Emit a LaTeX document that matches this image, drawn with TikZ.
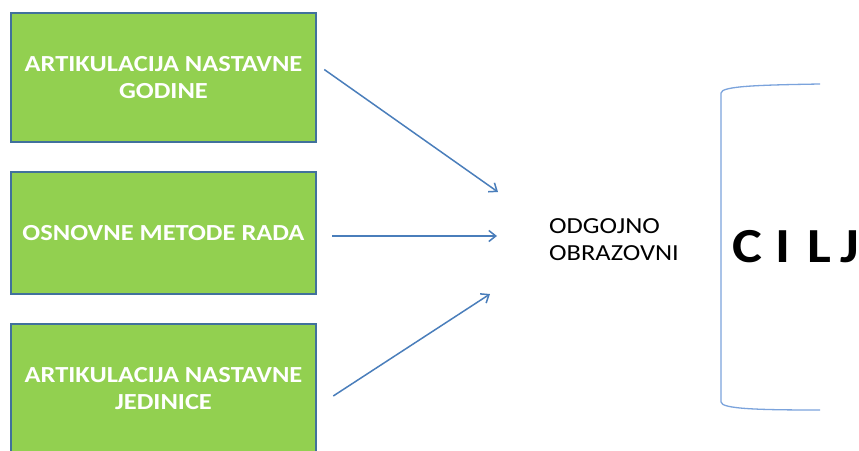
\documentclass[tikz,border=0pt]{standalone}
\usepackage{fontspec}
\setmainfont[FakeStretch=1.15]{Carlito}
\usetikzlibrary{arrows.meta}
\usetikzlibrary{calc}

\definecolor{boxgreen}{HTML}{92D050}
\definecolor{boxedge}{HTML}{41719C}
\definecolor{arrowblue}{HTML}{4A7EBB}
\definecolor{bracketblue}{HTML}{7BA3DC}

\begin{document}
\begin{tikzpicture}[x=1pt, y=-1pt,
    greenbox/.style={draw=boxedge, fill=boxgreen, line width=2.5pt, minimum width=305pt,
        align=center, text=white, font=\bfseries\fontsize{23}{27}\selectfont, inner sep=0pt},
    goalarrow/.style={arrowblue, line width=1.5pt, -{Straight Barb[length=7pt, width=11pt]}}]

    \useasboundingbox (0,0) rectangle (859,450);
    \clip (0,0) rectangle (859,450);

    \node[greenbox, minimum height=129pt] (godine) at (163.5, 77.5) {ARTIKULACIJA NASTAVNE\\GODINE};
    \node[greenbox, minimum height=122pt] (metode) at (163.5, 233) {OSNOVNE METODE RADA};
    \node[greenbox, minimum height=130pt] (jedinice) at (163.5, 389) {ARTIKULACIJA NASTAVNE\\JEDINICE};

    \coordinate (t1) at (498, 192);
    \coordinate (t2) at (497, 236);
    \coordinate (t3) at (490, 294);

    \draw[goalarrow] ($(godine.east)+(7,-8)$) -- (t1);
    \draw[goalarrow] ($(metode.east)+(15,3)$) -- (t2);
    \draw[goalarrow] ($(jedinice.east)+(16,7)$) -- (t3);

    \node[align=left, font=\fontsize{23}{27}\selectfont, anchor=base west, inner sep=0pt] (vrsta) at (549, 260) {ODGOJNO\\OBRAZOVNI};

    % bracket round the goal
    \draw[bracketblue, line width=1.3pt] (820, 84) .. controls (760, 85) and (721, 86) .. (721, 93)
        -- (721, 402) .. controls (721, 409) and (760, 410) .. (820, 410);

    \node[font=\bfseries\fontsize{49}{49}\selectfont, anchor=base west, inner sep=0pt] (cilj) at (732, 262)
        {C\hspace{14pt}I\hspace{16pt}L\hspace{10pt}J};

\end{tikzpicture}
\end{document}
